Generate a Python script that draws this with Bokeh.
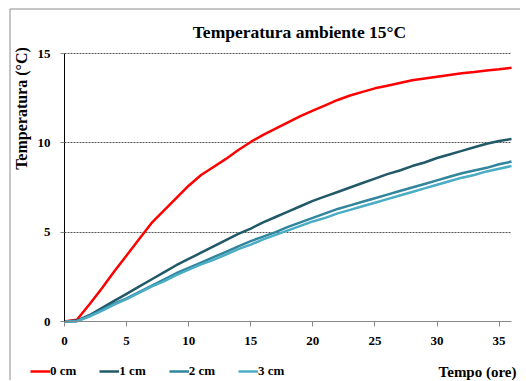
import math
from bokeh.plotting import figure
from bokeh.models import Legend, LegendItem, Label, FixedTicker, Range1d, BoxAnnotation
from bokeh.embed import file_html
from bokeh.resources import INLINE

hours = list(range(0, 37))
temp_0cm = [0, 0.1, 0.95, 1.85, 2.8, 3.7, 4.6, 5.5, 6.2, 6.9, 7.6, 8.2, 8.65, 9.1, 9.6,
            10.05, 10.45, 10.8, 11.15, 11.5, 11.8, 12.1, 12.4, 12.65, 12.85, 13.05, 13.2,
            13.35, 13.5, 13.6, 13.7, 13.8, 13.9, 13.97, 14.05, 14.12, 14.2]
temp_1cm = [0, 0.05, 0.35, 0.75, 1.15, 1.55, 1.95, 2.35, 2.75, 3.15, 3.5, 3.85, 4.2, 4.55,
            4.9, 5.2, 5.55, 5.85, 6.15, 6.45, 6.75, 7.0, 7.25, 7.5, 7.75, 8.0, 8.25, 8.45,
            8.7, 8.9, 9.15, 9.35, 9.55, 9.75, 9.95, 10.1, 10.22]
temp_2cm = [0, 0.02, 0.3, 0.65, 1.0, 1.3, 1.65, 2.0, 2.35, 2.7, 3.0, 3.3, 3.6, 3.9, 4.2,
            4.5, 4.75, 5.0, 5.3, 5.55, 5.8, 6.05, 6.3, 6.5, 6.7, 6.9, 7.1, 7.3, 7.5, 7.7,
            7.9, 8.1, 8.3, 8.45, 8.6, 8.8, 8.95]
temp_3cm = [0, 0.02, 0.28, 0.6, 0.95, 1.25, 1.6, 1.95, 2.25, 2.6, 2.9, 3.2, 3.45, 3.75,
            4.05, 4.3, 4.6, 4.85, 5.1, 5.35, 5.6, 5.8, 6.05, 6.25, 6.45, 6.65, 6.85, 7.05,
            7.25, 7.45, 7.65, 7.85, 8.05, 8.2, 8.4, 8.55, 8.7]
series_names = ["0 cm", "1 cm", "2 cm", "3 cm"]
series_colors = ["#FF0000", "#215968", "#31859C", "#4BACC6"]
x_ticks = [0, 5, 10, 15, 20, 25, 30, 35]
y_ticks = [0, 5, 10, 15]
x_title = "Tempo (ore)"
y_title = "Temperatura (°C)"
chart_title = "Temperatura ambiente 15°C"

SERIF = "Liberation Serif"

# ---- layout (pixels) ----
FIG_W, FIG_H = 520, 380
X_MIN, X_MAX = 0, 36
Y_MIN, Y_MAX = 0, 15
PX_XMIN, PX_XMAX = 64, 511      # pixel columns of x=0 and x=36
PX_YMIN, PX_YMAX = 321, 53      # pixel rows of y=0 and y=15
sx = (PX_XMAX - PX_XMIN) / (X_MAX - X_MIN)
sy = (PX_YMIN - PX_YMAX) / (Y_MAX - Y_MIN)
x_start = X_MIN - PX_XMIN / sx
x_end = X_MAX + (FIG_W - PX_XMAX) / sx
y_end = Y_MAX + PX_YMAX / sy
y_start = Y_MIN - (FIG_H - PX_YMIN) / sy


def dx(px):
    return x_start + px / sx


def dy(py):
    return y_end - py / sy


p = figure(width=FIG_W, height=FIG_H, output_backend="svg", toolbar_location=None,
           x_range=Range1d(x_start, x_end), y_range=Range1d(y_start, y_end),
           min_border=0, title=None)

renderers = []
for ys, c in zip([temp_0cm, temp_1cm, temp_2cm, temp_3cm], series_colors):
    r = p.line(hours, ys, line_color=c, line_width=2.5)
    renderers.append(r)

p.outline_line_color = None
p.xgrid.grid_line_color = None
grid = p.ygrid[0]
grid_ticks = y_ticks[1:]
if "cross_bounds" in grid.properties():
    grid.ticker = FixedTicker(ticks=grid_ticks)
    grid.cross_bounds = (X_MIN, X_MAX)
    grid.grid_line_color = "#555555"
    grid.grid_line_dash = "2 1"
    grid.grid_line_width = 1
else:
    grid.grid_line_color = None
    p.segment(x0=[X_MIN] * len(grid_ticks), x1=[X_MAX] * len(grid_ticks),
              y0=grid_ticks, y1=grid_ticks, line_color="#555555",
              line_dash="2 1", line_width=1, level="underlay")

p.xaxis.fixed_location = 0
p.yaxis.fixed_location = 0
p.xaxis.bounds = (X_MIN, X_MAX)
p.yaxis.bounds = (Y_MIN, Y_MAX)
p.xaxis.ticker = FixedTicker(ticks=x_ticks)
p.yaxis.ticker = FixedTicker(ticks=y_ticks)
p.xaxis.minor_tick_line_color = None
p.yaxis.minor_tick_line_color = None
p.xaxis.axis_line_color = "#888888"
p.xaxis.major_tick_line_color = "#888888"
p.xaxis.major_tick_out = 5
p.xaxis.major_tick_in = 0
p.yaxis.axis_line_color = "#000000"
p.yaxis.major_tick_out = 4
p.yaxis.major_tick_in = 0
p.yaxis.major_tick_line_color = "#888888"
for ax in (p.xaxis, p.yaxis):
    ax.major_label_text_font = SERIF
    ax.major_label_text_font_size = "13px"
    ax.major_label_text_font_style = "bold"
    ax.major_label_text_color = "#000000"
p.xaxis.major_label_standoff = 10
p.yaxis.major_label_standoff = 10

# outer frame lines (left and top only; right/bottom edges fall outside the canvas)
p.add_layout(BoxAnnotation(left=dx(9.5), top=dy(8.5), right=dx(FIG_W + 6), bottom=dy(FIG_H + 6),
                           fill_color=None, fill_alpha=0, line_color="#8c8c8c",
                           line_width=1, line_alpha=1))

p.add_layout(Label(x=dx(299), y=dy(31), text=chart_title,
                   text_align="center", text_baseline="middle",
                   text_font=SERIF, text_font_size="17.5px", text_font_style="bold",
                   text_color="#000000"))
p.add_layout(Label(x=dx(21), y=dy(108), text=y_title, angle=math.pi / 2,
                   text_align="center", text_baseline="middle",
                   text_font=SERIF, text_font_size="16px", text_font_style="bold",
                   text_color="#000000"))
p.add_layout(Label(x=dx(516), y=dy(371), text=x_title,
                   text_align="right", text_baseline="middle",
                   text_font=SERIF, text_font_size="15px", text_font_style="bold",
                   text_color="#000000"))

legend = Legend(items=[LegendItem(label=n, renderers=[r]) for n, r in zip(series_names, renderers)],
                orientation="horizontal", location=(30, 1),
                glyph_width=20, glyph_height=14, label_height=14, label_standoff=0,
                spacing=23, padding=0, margin=0,
                border_line_color=None, background_fill_alpha=0,
                label_text_font=SERIF, label_text_font_size="13px",
                label_text_font_style="bold", label_text_color="#000000")
p.add_layout(legend)

open("out.html", "w").write(file_html(p, INLINE))
